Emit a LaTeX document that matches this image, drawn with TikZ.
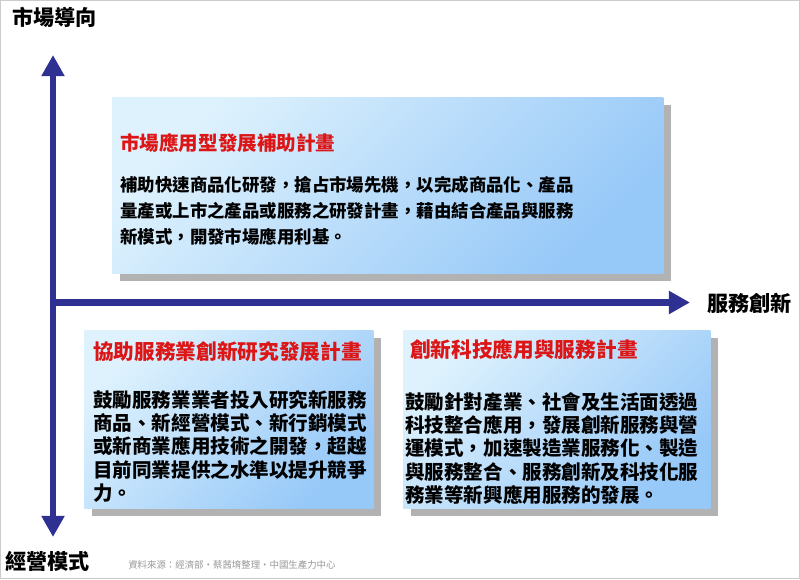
\documentclass[tikz,border=0pt]{standalone}
\usepackage{fontspec}
\setmainfont{Noto Sans CJK TC}
\usetikzlibrary{arrows.meta,shadows}
\definecolor{axisblue}{RGB}{46,49,146}
\definecolor{skylight}{RGB}{222,242,253}
\definecolor{skydeep}{RGB}{150,200,248}
\definecolor{titlered}{RGB}{220,22,22}
\definecolor{inkgray}{RGB}{150,150,150}
\tikzset{axistip/.tip={Triangle[width=15.6pt,length=15pt]}}
\begin{document}
\begin{tikzpicture}[x=0.025cm,y=-0.025cm,
    plan/.style={anchor=north west, inner sep=0pt, top color=skylight,
      bottom color=skydeep, shading angle=45,
      drop shadow={shadow xshift=5.7pt, shadow yshift=-5.7pt, fill=black!30, opacity=1}},
    plantitle/.style={anchor=west, inner sep=0pt, text=titlered},
    plantext/.style={anchor=north west, inner sep=0pt, align=left},
    axis/.style={draw=axisblue, line width=4.3pt},
    axislabel/.style={inner sep=0pt, font=\bfseries\fontsize{15}{18}\selectfont}]
  \useasboundingbox (0,0) rectangle (800,579);
  \draw[black!20] (0.5,0.5) rectangle (799.5,578.5);
  % the three plans
  \node[plan, minimum width=13.775cm, minimum height=4.4cm] (market) at (112,97) {};
  \node[plan, minimum width=7.225cm, minimum height=4.45cm] (service) at (84,330) {};
  \node[plan, minimum width=7.675cm, minimum height=4.45cm] (tech) at (403,330) {};
  \node[plantitle, font=\bfseries\fontsize{13.9}{16}\selectfont] (markettitle) at (120,143)
    {市場應用型發展補助計畫};
  \node[plantext, font=\bfseries\fontsize{12.4}{18.5}\selectfont] (markettext) at (120,176)
    {補助快速商品化研發，搶占市場先機，以完成商品化、產品\\
     量產或上市之產品或服務之研發計畫，藉由結合產品與服務\\
     新模式，開發市場應用利基。};
  \node[plantitle, font=\bfseries\fontsize{14.7}{17}\selectfont] (servicetitle) at (93,352)
    {協助服務業創新研究發展計畫};
  \node[plantext, font=\bfseries\fontsize{13.9}{16.6}\selectfont] (servicetext) at (93,390)
    {鼓勵服務業業者投入研究新服務\\
     商品、新經營模式、新行銷模式\\
     或新商業應用技術之開發，超越\\
     目前同業提供之水準以提升競爭\\
     力。};
  \node[plantitle, font=\bfseries\fontsize{14.7}{17}\selectfont] (techtitle) at (410,350)
    {創新科技應用與服務計畫};
  \node[plantext, font=\bfseries\fontsize{13.9}{16.6}\selectfont] (techtext) at (405,392)
    {鼓勵針對產業、社會及生活面透過\\
     科技整合應用，發展創新服務與營\\
     運模式，加速製造業服務化、製造\\
     與服務整合、服務創新及科技化服\\
     務業等新興應用服務的發展。};
  % axes
  \coordinate (origin) at (53,302.5);
  \coordinate (ytop) at (53,55);
  \coordinate (ybot) at (53,537);
  \coordinate (xend) at (690,302.5);
  \draw[axis, axistip-axistip] (ybot) -- (ytop);
  \draw[axis, -axistip] (origin) -- (xend);
  \node[axislabel, anchor=west] (market-led) at (12,17.5) {市場導向};
  \node[axislabel, anchor=west] (innovation) at (707,303) {服務創新};
  \node[axislabel, anchor=west] (business) at (5,561) {經營模式};
  \node[anchor=west, inner sep=0pt, text=inkgray, font=\fontsize{6.7}{8}\selectfont] (source)
    at (128,565) {資料來源：經濟部・蔡茜堉整理・中國生產力中心};
\end{tikzpicture}
\end{document}
